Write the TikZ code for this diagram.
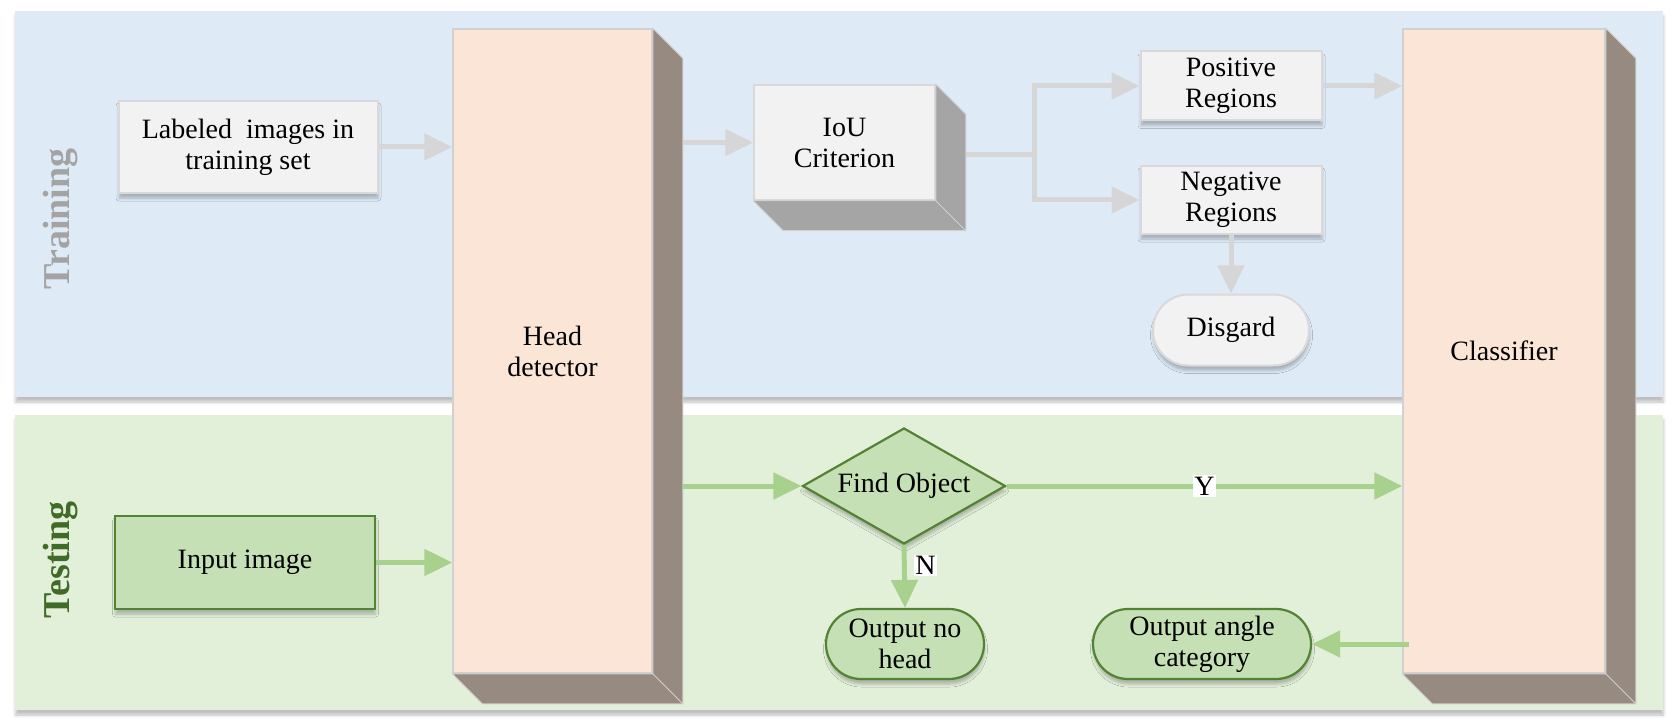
\documentclass[tikz,border=0pt]{standalone}
\usepackage{fontspec}
\setmainfont{Liberation Serif}
\usetikzlibrary{positioning,calc,arrows.meta,shapes.geometric,shapes.misc,shadows.blur}

\definecolor{bandblue}{HTML}{DEEBF7}
\definecolor{bandgreen}{HTML}{E2F0D9}
\definecolor{boxfill}{HTML}{F2F2F2}
\definecolor{boxline}{HTML}{D9D9D9}
\definecolor{cubeside}{HTML}{A5A5A5}
\definecolor{peach}{HTML}{FBE5D6}
\definecolor{slabside}{HTML}{968A81}
\definecolor{slabline}{HTML}{D3D0D0}
\definecolor{greenfill}{HTML}{C5E0B4}
\definecolor{greenline}{HTML}{548235}
\definecolor{arrowgray}{HTML}{D6D6D6}
\definecolor{arrowgreen}{HTML}{A9D18E}
\definecolor{traingray}{HTML}{A3A3A3}
\definecolor{testgreen}{HTML}{3F6B27}

\begin{document}
\begin{tikzpicture}[x=1pt,y=-1pt,
    txt/.style={font=\fontsize{28}{31}\selectfont, align=center, inner sep=2pt},
    softshadow/.style={blur shadow={shadow xshift=0.5pt, shadow yshift=-5pt, shadow blur radius=3pt, shadow opacity=25}},
    graybox/.style={txt, rectangle, fill=boxfill, draw=boxline, line width=2pt, softshadow},
    grayround/.style={graybox, rounded rectangle},
    greenbox/.style={txt, rectangle, fill=greenfill, draw=greenline, line width=2.2pt, softshadow},
    greenround/.style={greenbox, rounded rectangle},
    decision/.style={greenbox, diamond, aspect=1.75, inner sep=0pt},
    slab/.style={txt, rectangle, fill=peach, draw=slabline, line width=1.5pt},
    cube/.style={txt, rectangle, fill=boxfill, draw=boxline, line width=1.5pt},
    grayarrow/.style={draw=arrowgray, line width=5pt, -{Triangle[length=28pt,width=26pt]}},
    greenarrow/.style={draw=arrowgreen, line width=5pt, -{Triangle[length=28pt,width=26pt]}},
    flag/.style={txt, fill=white, inner sep=1.5pt},
    lane/.style={font=\bfseries\fontsize{38}{40}\selectfont, rotate=90}
]
    \useasboundingbox (0,0) rectangle (1672,727);
    % Draw the two bands
    \fill[bandblue, softshadow] (15,11) rectangle (1663,397);
    \fill[bandgreen, softshadow] (15,415) rectangle (1663,710);
    \node[lane, text=traingray] (trainlbl) at (61,219) {Training};
    \node[lane, text=testgreen] (testlbl) at (61,560) {Testing};

    % Training boxes
    \node[graybox, minimum width=259pt, minimum height=92pt] (lab) at (248,147) {Labeled\ \ images in\\training set};
    \node[cube, minimum width=181pt, minimum height=115pt] (iou) at (844.5,142.5) {IoU\\Criterion};
    \node[graybox, minimum width=181pt, minimum height=69pt] (pos) at (1231,86) {Positive\\Regions};
    \node[graybox, minimum width=181pt, minimum height=68pt] (neg) at (1231,200) {Negative\\Regions};
    \node[grayround, minimum width=160pt, minimum height=71pt] (dis) at (1231,330) {Disgard};

    % Testing boxes
    \node[greenbox, minimum width=260pt, minimum height=93pt] (inp) at (245,562.5) {Input image};
    \node[decision, minimum width=203pt, minimum height=116pt] (find) at (904,486) {Find Object};
    \node[greenround, minimum width=162pt, minimum height=70pt] (nohead) at (905,644) {Output no\\head};
    \node[greenround, minimum width=222pt, minimum height=70pt] (angle) at (1202,644) {Output angle\\category};

    % Head detector and classifier slabs
    \node[slab, minimum width=199pt, minimum height=644pt] (hd) at (552.5,351) {Head\\detector};
    \node[slab, minimum width=202pt, minimum height=644pt] (cls) at (1504,351) {Classifier};

    % Draw the sides of the 3D boxes
    \foreach \b/\c in {hd/slabside, cls/slabside, iou/cubeside}{
        \filldraw[fill=\c, draw=slabline, line width=1pt, line join=round]
            (\b.north east) -- ++(30,30) -- ($(\b.south east)+(30,30)$) -- ($(\b.south west)+(30,30)$)
            -- (\b.south west) -- (\b.south east) -- cycle;
        \draw[slabline, line width=1pt] (\b.south east) -- ++(30,30);
    }
    \coordinate (hdside) at ($(hd.east)+(30,0)$);
    \coordinate (iouside) at ($(iou.east)+(30,0)$);
    \coordinate (split) at (1034,155);

    % Training arrows
    \draw[grayarrow] (lab.east) -- (lab.east -| hd.west);
    \draw[grayarrow] (hdside |- iou.west) -- (iou.west);
    \draw[draw=arrowgray, line width=5pt] (iouside |- split) -- (split);
    \draw[grayarrow] (split) |- (pos.west);
    \draw[grayarrow] (split) |- (neg.west);
    \draw[grayarrow] (neg.south) -- (dis.north);
    \draw[grayarrow] (pos.east) -- (pos.east -| cls.west);

    % Testing arrows
    \draw[greenarrow] (inp.east) -- (inp.east -| hd.west);
    \draw[greenarrow] (hdside |- find.west) -- (find.west);
    \draw[greenarrow] (find.east) -- (find.east -| cls.west) node[flag, midway] (yes) {Y};
    \draw[greenarrow] (find.south) -- (nohead.north) node[flag, pos=0.32, right, xshift=7pt] (no) {N};
    \draw[greenarrow] ($(cls.west |- angle.east)+(7,0)$) -- (angle.east);
\end{tikzpicture}
\end{document}
